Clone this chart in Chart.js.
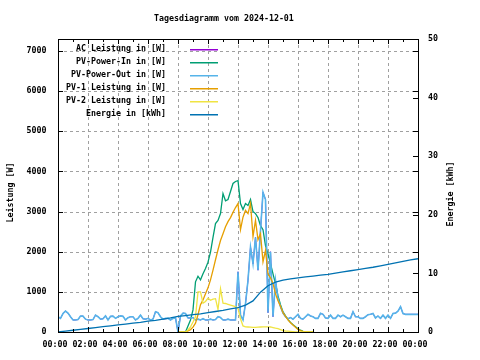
<!DOCTYPE html>
<html><head><meta charset="utf-8">
<script src="https://cdn.jsdelivr.net/npm/chart.js@4"></script>
<style>html,body{margin:0;padding:0;background:#fff}canvas{display:block}</style>
</head><body>
<canvas id="c" width="480" height="360"></canvas>
<script>
const chartTitle = 'Tagesdiagramm vom 2024-12-01';
const yTitle = 'Leistung [W]';
const y2Title = 'Energie [kWh]';
const seriesNames = ['AC Leistung in [W]','PV-Power-In in [W]','PV-Power-Out in [W]','PV-1 Leistung in [W]','PV-2 Leistung in [W]','Energie in [kWh]'];
const seriesColors = ['#9400d3','#009e73','#56b4e9','#e69f00','#f0e442','#0072b2'];

// tick values
const xTickHours = [0,2,4,6,8,10,12,14,16,18,20,22,24];
const xTickLabels = ['00:00','02:00','04:00','06:00','08:00','10:00','12:00','14:00','16:00','18:00','20:00','22:00','00:00'];
const yTickValues = [0,1000,2000,3000,4000,5000,6000,7000];
const y2TickValues = [0,10,20,30,40,50];

// time grids (hours)
const times = Array.from({length:145}, (_, i) => i / 6);          // 00:00..24:00, 10 min
const timesDay = Array.from({length:55}, (_, i) => 8 + i / 6);     // 08:00..17:00, 10 min
const energyTimes = Array.from({length:49}, (_, i) => i / 2);      // 00:00..24:00, 30 min

// PV-Power-Out [W], 10-min values, one line per hour
const pvOut = [
  380,340,460,520,470,380,  // 00
  300,300,310,395,395,320,  // 01
  300,300,310,420,380,320,  // 02
  330,400,300,390,395,340,  // 03
  380,400,390,300,355,380,  // 04
  380,300,340,420,330,320,  // 05
  340,300,320,505,480,380,  // 06
  320,340,340,300,340,350,  // 07
  0,400,470,460,350,350,    // 08
  360,300,320,300,330,300,  // 09
  300,320,300,310,380,360,  // 10
  300,300,320,300,300,300,  // 11
  1500,420,300,710,1290,2115, // 12
  1700,2360,1540,2530,3480,3300, // 13
  480,2000,380,1290,835,630, // 14
  470,380,330,360,320,380,  // 15
  440,340,320,380,440,400,  // 16
  380,340,340,465,440,350,  // 17
  340,420,340,340,420,380,  // 18
  420,380,340,340,505,380,  // 19
  380,340,340,380,430,440,  // 20
  460,350,400,340,420,340,  // 21
  420,340,460,470,520,630,  // 22
  460,440,440,440,440,440,  // 23
  440                       // 24
];
// AC Leistung [W]
const acPower = [
  380,340,460,520,470,380,
  300,300,310,395,395,320,
  300,300,310,420,380,320,
  330,400,300,390,395,340,
  380,400,390,300,355,380,
  380,300,340,420,330,320,
  340,300,320,505,480,380,
  320,330,340,300,340,350,
  0,400,470,460,350,350,
  360,300,320,300,330,300,
  300,320,300,310,380,360,
  300,300,320,300,300,300,
  1500,420,300,710,1290,2115,
  1700,2360,1540,2530,3480,3300,
  480,2000,380,1290,835,630,
  470,380,330,360,320,380,
  440,340,320,380,440,400,
  380,340,340,465,440,350,
  340,420,340,340,420,380,
  420,380,340,340,505,380,
  380,340,340,380,430,440,
  460,350,400,330,420,340,
  420,340,460,470,520,630,
  460,440,440,440,440,440,
  440
];
// PV-Power-In [W], 08:00..17:00
const pvIn = [
  0,0,0,0,150,300,            // 08
  550,1250,1390,1300,1450,1580, // 09
  1740,1990,2360,2700,2780,2950, // 10
  3450,3270,3300,3500,3700,3750, // 11
  3770,3200,3050,3200,3150,3300, // 12
  3000,2950,2850,2650,2550,2150, // 13
  1950,1700,1450,1200,900,680,  // 14
  500,400,310,240,180,130,      // 15
  80,45,15,0,0,0,               // 16
  0
];
// PV-1 Leistung [W]
const pv1 = [
  0,0,0,0,30,60,
  120,220,430,680,800,950,
  1100,1300,1540,1800,2050,2280,
  2450,2620,2750,2850,2980,3100,
  3200,2550,2860,3030,2950,3200,
  2380,2780,2300,2450,1750,2030,
  1450,1350,1210,950,780,640,
  480,390,300,230,175,120,
  65,35,15,8,0,0,
  0
];
// PV-2 Leistung [W]
const pv2 = [
  0,0,0,0,50,130,
  250,380,1000,1000,720,760,
  840,790,820,830,560,1080,
  720,710,690,670,650,630,
  590,330,150,130,125,120,
  115,115,120,125,130,130,
  130,125,110,95,85,60,
  35,25,20,15,10,5,
  0,0,0,0,0,0,
  0
];
// Energie [kWh], 30-min values
const energy = [
  0.0,0.15,0.3,0.45,0.6,0.75,0.9,1.05,1.2,1.35,1.5,1.65,
  1.85,2.0,2.2,2.4,2.65,2.8,2.95,3.1,3.3,3.5,3.7,3.95,
  4.15,4.6,5.3,6.8,7.9,8.5,8.85,9.05,9.25,9.4,9.55,9.7,
  9.85,10.05,10.25,10.45,10.65,10.85,11.05,11.3,11.55,11.8,12.05,12.3,
  12.5
];

const FAM = '"DejaVu Sans Mono", monospace';
const FS = 8.3;
const FONT = {family: FAM, size: FS, weight: 'bold'};
const pts = (xs, ys) => xs.map((x, i) => ({x, y: ys[i]}));

const mk = (i, xs, ys, axis, order, bw) => ({
  label: seriesNames[i], data: pts(xs, ys), borderColor: seriesColors[i],
  backgroundColor: seriesColors[i], borderWidth: bw, pointRadius: 0, fill: false,
  tension: 0, yAxisID: axis, order
});

const decor = {
  id: 'decor',
  beforeDatasetsDraw(chart) {
    const {ctx, chartArea: a, scales} = chart;
    ctx.save();
    ctx.strokeStyle = '#a0a0a0'; ctx.lineWidth = 1; ctx.setLineDash([3, 3]);
    ctx.beginPath();
    scales.x.ticks.forEach(t => {
      if (t.value <= 0 || t.value >= 24) return;
      const px = Math.round(scales.x.getPixelForValue(t.value)) + 0.5;
      ctx.moveTo(px, a.top); ctx.lineTo(px, a.bottom);
    });
    scales.y.ticks.forEach(t => {
      if (t.value <= 0) return;
      const py = Math.round(scales.y.getPixelForValue(t.value)) + 0.5;
      ctx.moveTo(a.left, py); ctx.lineTo(a.right, py);
    });
    ctx.stroke();
    ctx.restore();
  },
  afterDraw(chart) {
    const {ctx, chartArea: a, scales} = chart;
    ctx.save();
    ctx.strokeStyle = '#000'; ctx.lineWidth = 1; ctx.setLineDash([]);
    ctx.strokeRect(a.left + 0.5, a.top + 0.5, a.right - a.left, a.bottom - a.top);
    ctx.beginPath();
    for (let h = 1; h < 24; h++) {
      const px = Math.round(scales.x.getPixelForValue(h)) + 0.5;
      const len = h % 2 === 0 ? 5 : 3;
      ctx.moveTo(px, a.bottom); ctx.lineTo(px, a.bottom - len);
      ctx.moveTo(px, a.top); ctx.lineTo(px, a.top + len);
    }
    scales.y.ticks.forEach(t => {
      if (t.value <= 0) return;
      const py = Math.round(scales.y.getPixelForValue(t.value)) + 0.5;
      ctx.moveTo(a.left, py); ctx.lineTo(a.left + 5, py);
      ctx.moveTo(a.right, py); ctx.lineTo(a.right - 5, py);
    });
    scales.y2.ticks.forEach(t => {
      if (t.value <= 0 || t.value >= 50) return;
      const py = Math.round(scales.y2.getPixelForValue(t.value)) + 0.5;
      ctx.moveTo(a.right, py); ctx.lineTo(a.right - 5, py);
    });
    ctx.stroke();

    ctx.fillStyle = '#000';
    ctx.font = 'bold ' + FS + 'px ' + FAM;
    ctx.textAlign = 'left'; ctx.textBaseline = 'alphabetic';
    ctx.fillText(chartTitle, 154, 21);

    // legend
    ctx.textAlign = 'right';
    seriesNames.forEach((n, i) => {
      ctx.fillStyle = '#000';
      ctx.fillText(n, 166, 50.5 + 13 * i);
      ctx.fillStyle = seriesColors[i];
      ctx.fillRect(190, 49 + 13 * i, 28, 1.5);
    });

    // axis titles
    ctx.fillStyle = '#000';
    ctx.textAlign = 'center'; ctx.textBaseline = 'middle';
    ctx.save(); ctx.translate(10.5, 192.5); ctx.rotate(-Math.PI / 2); ctx.fillText(yTitle, 0, 0); ctx.restore();
    ctx.save(); ctx.translate(450.5, 194); ctx.rotate(-Math.PI / 2); ctx.fillText(y2Title, 0, 0); ctx.restore();
    ctx.restore();
  }
};

new Chart(document.getElementById('c'), {
  type: 'line',
  data: {
    datasets: [
      mk(0, times, acPower, 'y', 6, 1),
      mk(1, timesDay, pvIn, 'y', 5, 1.3),
      mk(2, times, pvOut, 'y', 4, 1.6),
      mk(3, timesDay, pv1, 'y', 3, 1.3),
      mk(4, timesDay, pv2, 'y', 2, 1.3),
      mk(5, energyTimes, energy, 'y2', 1, 1.3)
    ]
  },
  options: {
    responsive: false, animation: false, devicePixelRatio: 1,
    layout: {padding: {top: 39, left: 0, right: 0, bottom: 0}},
    plugins: {legend: {display: false}, title: {display: false}, tooltip: {enabled: false}},
    scales: {
      x: {
        type: 'linear', min: 0, max: 24,
        grid: {display: false, drawTicks: false}, border: {display: false},
        afterBuildTicks: s => { s.ticks = xTickHours.map(v => ({value: v})); },
        ticks: {autoSkip: false, maxRotation: 0, minRotation: 0, padding: 8, labelOffset: -3,
          color: '#000', font: FONT,
          callback: (v, i) => xTickLabels[i]},
        afterFit: s => { s.height = 28; }
      },
      y: {
        type: 'linear', position: 'left', min: 0, max: 7300,
        grid: {display: false, drawTicks: false}, border: {display: false},
        afterBuildTicks: s => { s.ticks = yTickValues.map(v => ({value: v})); },
        ticks: {padding: 11.5, color: '#000', font: FONT, callback: v => String(v)},
        afterFit: s => { s.width = 58; }
      },
      y2: {
        type: 'linear', position: 'right', min: 0, max: 50,
        grid: {display: false, drawTicks: false}, border: {display: false},
        afterBuildTicks: s => { s.ticks = y2TickValues.map(v => ({value: v})); },
        ticks: {padding: 10, color: '#000', font: FONT, callback: v => String(v)},
        afterFit: s => { s.width = 62; }
      }
    }
  },
  plugins: [decor]
});
</script>
</body></html>
